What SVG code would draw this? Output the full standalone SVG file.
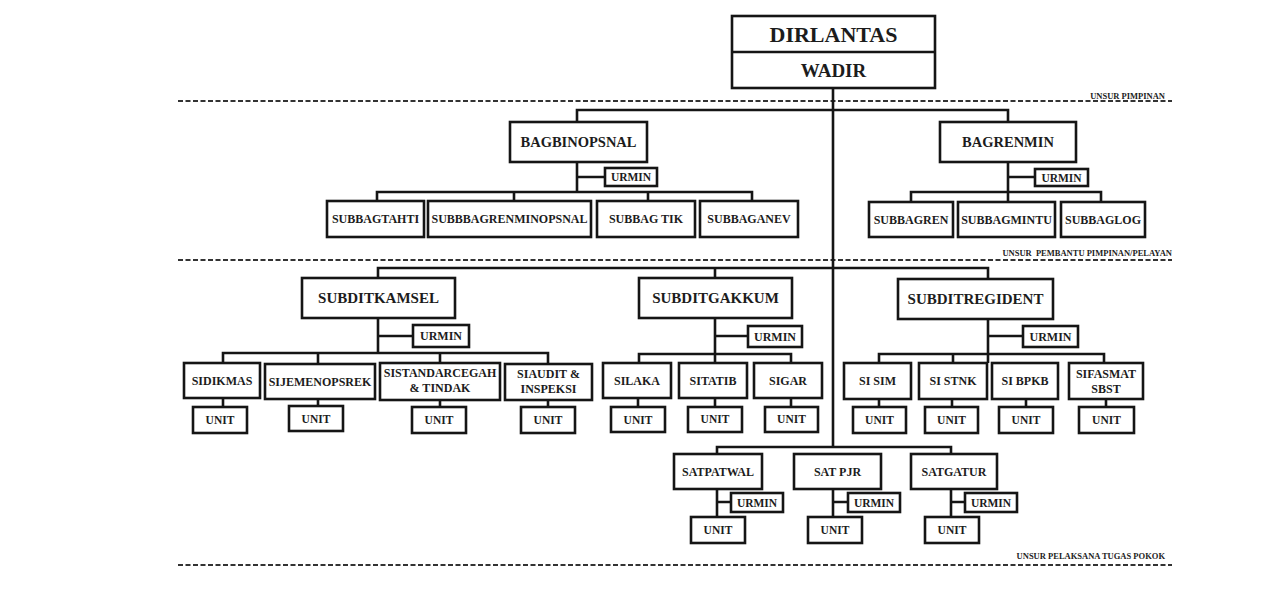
<svg xmlns="http://www.w3.org/2000/svg" width="1280" height="608" viewBox="0 0 1280 608">
<style>
.b{fill:#fff;stroke:#151515;stroke-width:2.6}
.t{font-family:"Liberation Serif","Times New Roman",serif;font-weight:bold;fill:#1c1c1c;text-anchor:middle}
.h1{font-size:22px}
.h2{font-size:14.5px}
.h3{font-size:15px}
.s{font-size:12px}
.u{font-size:11.5px}
.lab{font-family:"Liberation Serif","Times New Roman",serif;font-weight:bold;fill:#222;font-size:8.5px;text-anchor:end}
.c{stroke:#151515;stroke-width:2.6;fill:none}
.d{stroke:#333;stroke-width:1.8;stroke-dasharray:5 2.5;fill:none}
</style>
<rect width="1280" height="608" fill="#fff"/>

<g id="bands">
<line class="d" x1="178" y1="101" x2="1172" y2="101"/>
<line class="d" x1="178" y1="260" x2="1172" y2="260"/>
<line class="d" x1="178" y1="565" x2="1172" y2="565"/>
<text class="lab" x="1165" y="99">UNSUR PIMPINAN</text>
<text class="lab" x="1172" y="256" xml:space="preserve">UNSUR  PEMBANTU PIMPINAN/PELAYAN</text>
<text class="lab" x="1165" y="559">UNSUR PELAKSANA TUGAS POKOK</text>
</g>

<g id="connectors">
<path class="c" d="M833 88V447"/>
<path class="c" d="M577 122V110H1008V122"/>
<path class="c" d="M577 162V192M577 177H605M377 201V192H752V201M514 192V201M648 192V201"/>
<path class="c" d="M1008 161V202M1008 177H1035M911 202V192H1101V202"/>
<path class="c" d="M378 278V268H988V279M715 268V278"/>
<path class="c" d="M378 318V353M378 336H413M223 363V353H548V364M318 353V364M440 353V363"/>
<path class="c" d="M223 398V407M318 399V406M440 400V407M548 400V407"/>
<path class="c" d="M715 318V363M715 336H748M639 363V354H791V363"/>
<path class="c" d="M638 398V407M715 398V407M791 398V407"/>
<path class="c" d="M988 319V363M988 336H1023M879 363V354H1104V363M953 354V363"/>
<path class="c" d="M879 399V407M952 399V407M1026 399V407M1106 399V407"/>
<path class="c" d="M717 454V447H951V454"/>
<path class="c" d="M717 489V517M717 502H731"/>
<path class="c" d="M833 489V517M833 502H848"/>
<path class="c" d="M951 489V517M951 502H965"/>
</g>

<g id="dirlantas">
<rect class="b" x="732" y="16" width="203" height="72"/>
<line class="c" x1="732" y1="52" x2="935" y2="52"/>
<text class="t h1" x="833.5" y="42">DIRLANTAS</text>
<text class="t" style="font-size:19px" x="833.5" y="77">WADIR</text>
</g>

<g id="bagbinopsnal"><rect class="b" x="510" y="122" width="137" height="40"/><text class="t h2" x="578.5" y="147">BAGBINOPSNAL</text></g>
<g id="urmin-bagbin"><rect class="b" x="605" y="168" width="52" height="18"/><text class="t u" x="631" y="181">URMIN</text></g>
<g id="subbagtahti"><rect class="b" x="327" y="201" width="97" height="36"/><text class="t s" x="375.5" y="223.2">SUBBAGTAHTI</text></g>
<g id="subbbagrenminopsnal"><rect class="b" x="428" y="201" width="163" height="36"/><text class="t s" x="509.5" y="223.2">SUBBBAGRENMINOPSNAL</text></g>
<g id="subbagtik"><rect class="b" x="597" y="201" width="98" height="36"/><text class="t s" x="646" y="223.2">SUBBAG TIK</text></g>
<g id="subbaganev"><rect class="b" x="700" y="201" width="98" height="36"/><text class="t s" x="749" y="223.2">SUBBAGANEV</text></g>

<g id="bagrenmin"><rect class="b" x="940" y="122" width="136" height="40"/><text class="t h2" x="1008" y="147">BAGRENMIN</text></g>
<g id="urmin-bagren"><rect class="b" x="1035" y="169" width="53" height="17"/><text class="t u" x="1061.5" y="181.5">URMIN</text></g>
<g id="subbagren"><rect class="b" x="869" y="202" width="84" height="35"/><text class="t s" x="911" y="223.7">SUBBAGREN</text></g>
<g id="subbagmintu"><rect class="b" x="958" y="202" width="97" height="35"/><text class="t s" x="1006.5" y="223.7">SUBBAGMINTU</text></g>
<g id="subbaglog"><rect class="b" x="1061" y="202" width="84" height="35"/><text class="t s" x="1103" y="223.7">SUBBAGLOG</text></g>

<g id="subditkamsel"><rect class="b" x="302" y="278" width="153" height="40"/><text class="t h3" x="378.5" y="303.3">SUBDITKAMSEL</text></g>
<g id="urmin-kamsel"><rect class="b" x="413" y="325" width="56" height="22"/><text class="t s" x="441" y="340.2">URMIN</text></g>
<g id="sidikmas"><rect class="b" x="184" y="363" width="76" height="35"/><text class="t s" x="222" y="384.7">SIDIKMAS</text></g>
<g id="sijemenopsrek"><rect class="b" x="265" y="364" width="110" height="35"/><text class="t s" x="320" y="385.7">SIJEMENOPSREK</text></g>
<g id="sistandarcegah"><rect class="b" x="380" y="363" width="120" height="37"/><text class="t s" x="440" y="377">SISTANDARCEGAH</text><text class="t s" x="440" y="392">&amp; TINDAK</text></g>
<g id="siaudit"><rect class="b" x="505" y="364" width="87" height="36"/><text class="t s" x="548.5" y="378">SIAUDIT &amp;</text><text class="t s" x="548.5" y="393">INSPEKSI</text></g>
<g id="unit-sidikmas"><rect class="b" x="193" y="407" width="54" height="26"/><text class="t u" x="220" y="424">UNIT</text></g>
<g id="unit-sijemen"><rect class="b" x="289" y="406" width="54" height="25"/><text class="t u" x="316" y="422.5">UNIT</text></g>
<g id="unit-sistandar"><rect class="b" x="412" y="407" width="54" height="26"/><text class="t u" x="439" y="424">UNIT</text></g>
<g id="unit-siaudit"><rect class="b" x="521" y="407" width="54" height="26"/><text class="t u" x="548" y="424">UNIT</text></g>

<g id="subditgakkum"><rect class="b" x="639" y="278" width="153" height="40"/><text class="t h3" x="715.5" y="303.3">SUBDITGAKKUM</text></g>
<g id="urmin-gakkum"><rect class="b" x="748" y="326" width="54" height="21"/><text class="t s" x="775" y="340.7">URMIN</text></g>
<g id="silaka"><rect class="b" x="603" y="363" width="68" height="35"/><text class="t s" x="637" y="384.7">SILAKA</text></g>
<g id="sitatib"><rect class="b" x="679" y="363" width="68" height="35"/><text class="t s" x="713" y="384.7">SITATIB</text></g>
<g id="sigar"><rect class="b" x="754" y="363" width="68" height="35"/><text class="t s" x="788" y="384.7">SIGAR</text></g>
<g id="unit-silaka"><rect class="b" x="611" y="407" width="54" height="25"/><text class="t u" x="638" y="423.5">UNIT</text></g>
<g id="unit-sitatib"><rect class="b" x="688" y="407" width="54" height="25"/><text class="t u" x="715" y="423">UNIT</text></g>
<g id="unit-sigar"><rect class="b" x="765" y="407" width="53" height="25"/><text class="t u" x="791.5" y="423">UNIT</text></g>

<g id="subditregident"><rect class="b" x="898" y="279" width="155" height="40"/><text class="t h3" x="975.5" y="304.3">SUBDITREGIDENT</text></g>
<g id="urmin-regident"><rect class="b" x="1023" y="326" width="55" height="21"/><text class="t s" x="1050.5" y="340.7">URMIN</text></g>
<g id="sisim"><rect class="b" x="844" y="363" width="67" height="36"/><text class="t s" x="877.5" y="385.2">SI SIM</text></g>
<g id="sistnk"><rect class="b" x="919" y="363" width="68" height="36"/><text class="t s" x="953" y="385.2">SI STNK</text></g>
<g id="sibpkb"><rect class="b" x="992" y="363" width="66" height="36"/><text class="t s" x="1025" y="385.2">SI BPKB</text></g>
<g id="sifasmat"><rect class="b" x="1069" y="363" width="74" height="36"/><text class="t s" x="1106" y="377.5">SIFASMAT</text><text class="t s" x="1106" y="392.5">SBST</text></g>
<g id="unit-sisim"><rect class="b" x="853" y="407" width="53" height="26"/><text class="t u" x="879.5" y="424">UNIT</text></g>
<g id="unit-sistnk"><rect class="b" x="925" y="407" width="53" height="26"/><text class="t u" x="951.5" y="424">UNIT</text></g>
<g id="unit-sibpkb"><rect class="b" x="999" y="407" width="54" height="26"/><text class="t u" x="1026" y="424">UNIT</text></g>
<g id="unit-sifasmat"><rect class="b" x="1079" y="407" width="55" height="26"/><text class="t u" x="1106.5" y="424">UNIT</text></g>

<g id="satpatwal"><rect class="b" x="674" y="454" width="88" height="35"/><text class="t s" x="718" y="475.7">SATPATWAL</text></g>
<g id="urmin-satpatwal"><rect class="b" x="731" y="493" width="52" height="19"/><text class="t u" x="757" y="506.5">URMIN</text></g>
<g id="unit-satpatwal"><rect class="b" x="691" y="517" width="54" height="26"/><text class="t u" x="718" y="534">UNIT</text></g>
<g id="satpjr"><rect class="b" x="794" y="454" width="87" height="35"/><text class="t s" x="837.5" y="475.7">SAT PJR</text></g>
<g id="urmin-satpjr"><rect class="b" x="848" y="493" width="52" height="19"/><text class="t u" x="874" y="506.5">URMIN</text></g>
<g id="unit-satpjr"><rect class="b" x="808" y="517" width="54" height="26"/><text class="t u" x="835" y="534">UNIT</text></g>
<g id="satgatur"><rect class="b" x="911" y="454" width="86" height="35"/><text class="t s" x="954" y="475.7">SATGATUR</text></g>
<g id="urmin-satgatur"><rect class="b" x="965" y="493" width="52" height="19"/><text class="t u" x="991" y="506.5">URMIN</text></g>
<g id="unit-satgatur"><rect class="b" x="925" y="517" width="54" height="26"/><text class="t u" x="952" y="534">UNIT</text></g>
</svg>
